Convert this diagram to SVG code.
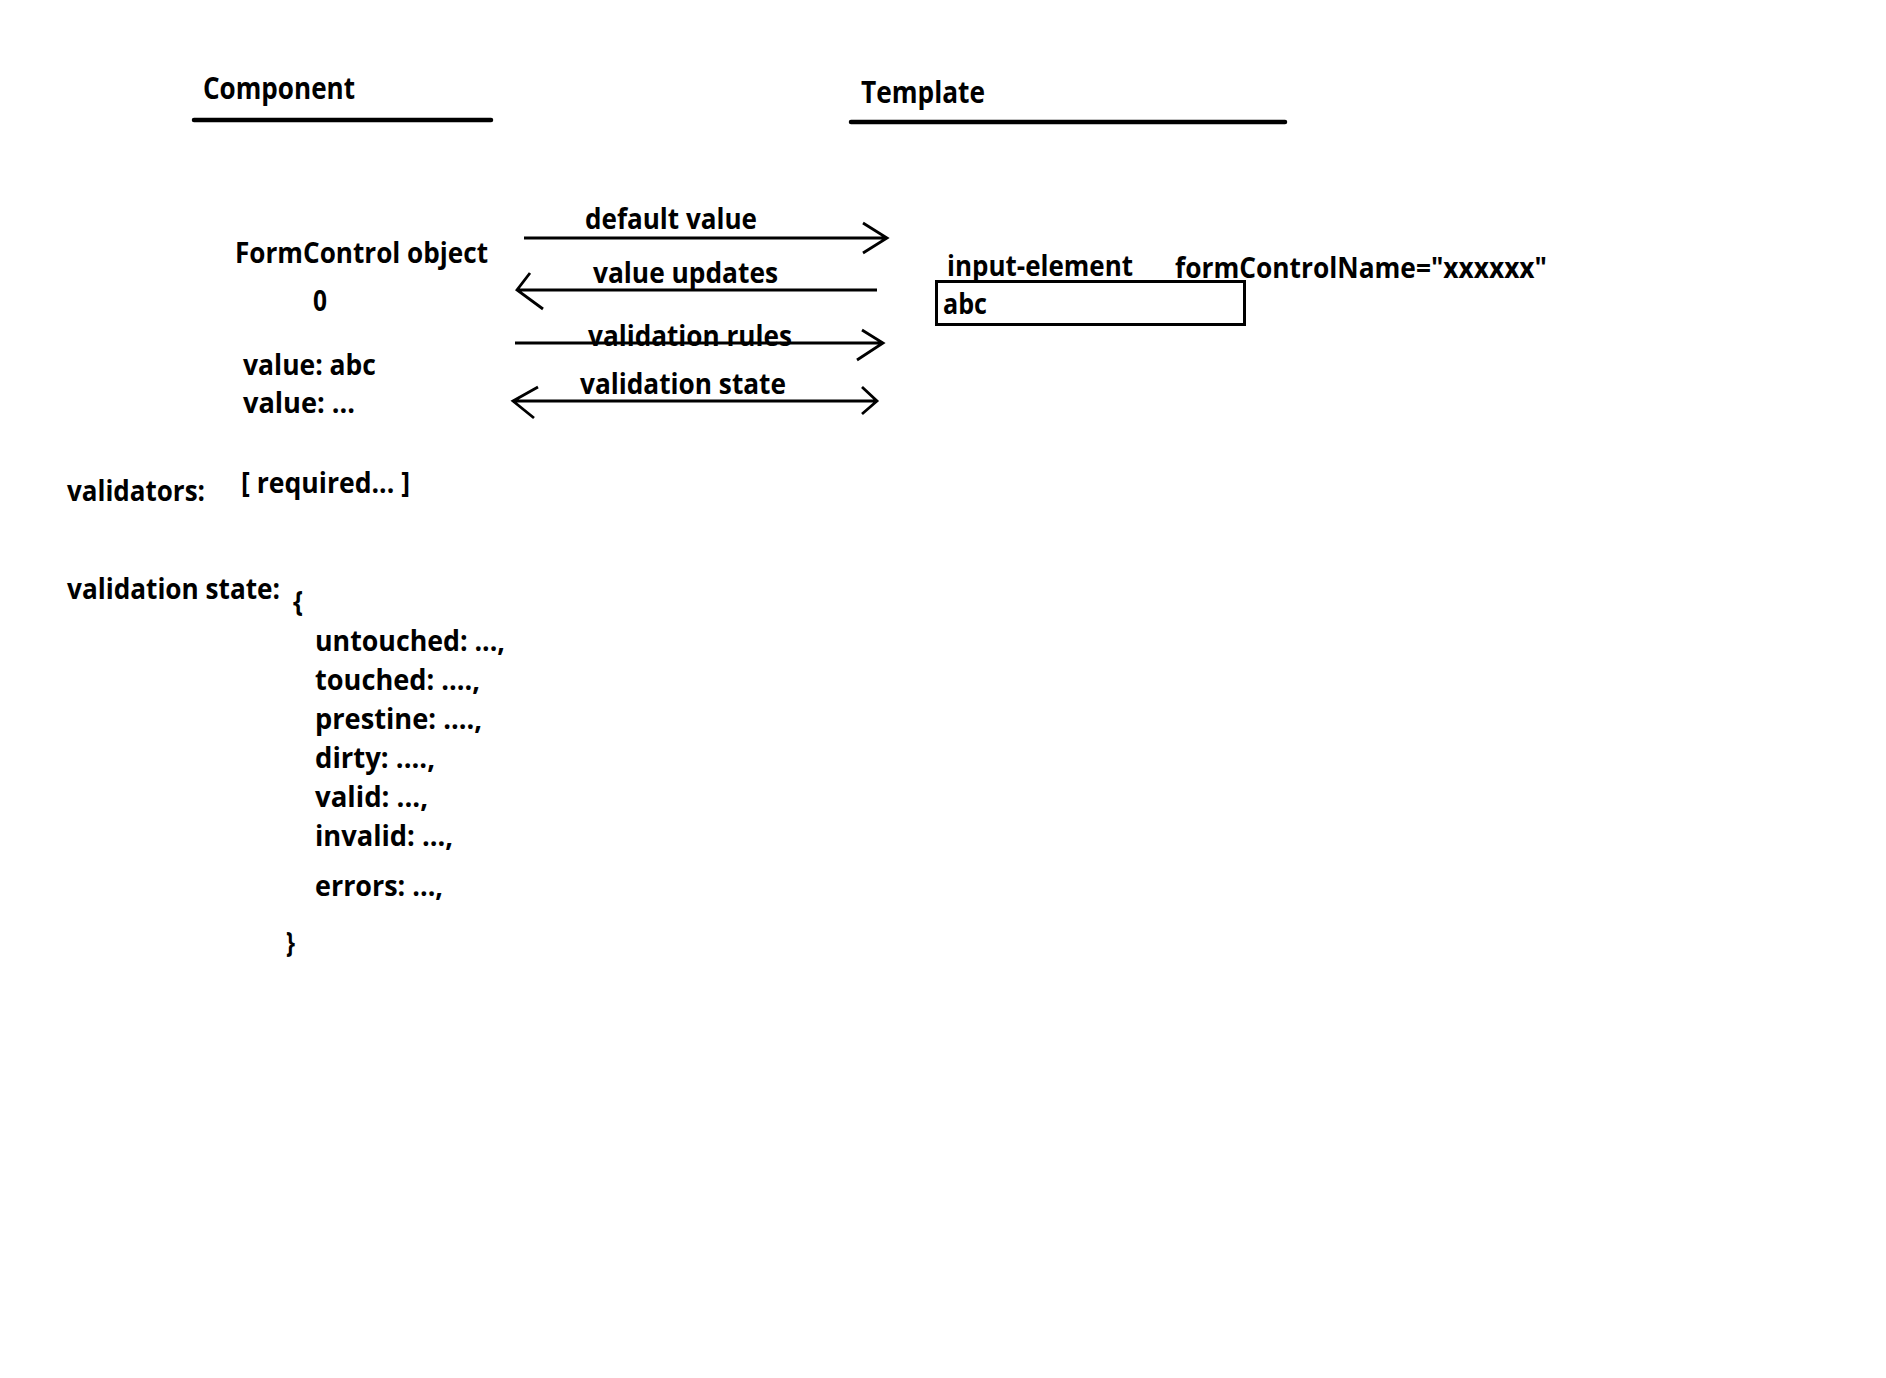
<svg xmlns="http://www.w3.org/2000/svg" width="1886" height="1378" viewBox="0 0 1886 1378">
  <style>
    text { font-family: "Open Sans", "Noto Sans", "DejaVu Sans", sans-serif; font-weight: 700; fill: #000; font-size: 28px; }
    .head { font-size: 29.5px; }
    .rule { stroke: #000; stroke-width: 4.5; stroke-linecap: round; fill: none; }
    .wire { stroke: #000; stroke-width: 2.8; fill: none; stroke-linecap: butt; stroke-linejoin: miter; }
    .box { stroke: #000; stroke-width: 3; fill: none; }
  </style>
  <rect width="1886" height="1378" fill="#fff"/>

  <!-- column headings -->
  <g id="component-heading">
    <text class="head" x="203" y="99" textLength="152" lengthAdjust="spacingAndGlyphs">Component</text>
    <line class="rule" x1="194" y1="120" x2="491" y2="120"/>
  </g>
  <g id="template-heading">
    <text class="head" x="861" y="103" textLength="124" lengthAdjust="spacingAndGlyphs">Template</text>
    <line class="rule" x1="851" y1="122" x2="1285" y2="122"/>
  </g>

  <!-- component side: the FormControl -->
  <g id="form-control">
    <text x="235" y="263" textLength="253" lengthAdjust="spacingAndGlyphs">FormControl object</text>
    <text x="313" y="311" textLength="14" lengthAdjust="spacingAndGlyphs">0</text>
    <text x="243" y="375" textLength="133" lengthAdjust="spacingAndGlyphs">value: abc</text>
    <text x="243" y="413" textLength="112" lengthAdjust="spacingAndGlyphs">value: ...</text>
  </g>

  <g id="validators">
    <text x="67" y="501" textLength="138" lengthAdjust="spacingAndGlyphs">validators:</text>
    <text x="241" y="493" textLength="169" lengthAdjust="spacingAndGlyphs">[ required... ]</text>
  </g>

  <g id="validation-state">
    <text x="67" y="599" textLength="213" lengthAdjust="spacingAndGlyphs">validation state:</text>
    <text x="293" y="612" textLength="10" lengthAdjust="spacingAndGlyphs">{</text>
    <text x="315" y="651" textLength="190" lengthAdjust="spacingAndGlyphs">untouched: ...,</text>
    <text x="315" y="690" textLength="165" lengthAdjust="spacingAndGlyphs">touched: ....,</text>
    <text x="315" y="729" textLength="167" lengthAdjust="spacingAndGlyphs">prestine: ....,</text>
    <text x="315" y="768" textLength="120" lengthAdjust="spacingAndGlyphs">dirty: ....,</text>
    <text x="315" y="807" textLength="113" lengthAdjust="spacingAndGlyphs">valid: ...,</text>
    <text x="315" y="846" textLength="138" lengthAdjust="spacingAndGlyphs">invalid: ...,</text>
    <text x="315" y="896" textLength="128" lengthAdjust="spacingAndGlyphs">errors: ...,</text>
    <text x="286" y="953" textLength="9" lengthAdjust="spacingAndGlyphs">}</text>
  </g>

  <!-- template side: the bound input -->
  <g id="input-element">
    <text x="947" y="276" textLength="186" lengthAdjust="spacingAndGlyphs">input-element</text>
    <text x="1175" y="278" textLength="372" lengthAdjust="spacingAndGlyphs">formControlName="xxxxxx"</text>
    <rect class="box" x="936.5" y="281.5" width="308" height="43"/>
    <text x="943" y="314" textLength="44" lengthAdjust="spacingAndGlyphs">abc</text>
  </g>

  <!-- data flow between component and template -->
  <g id="connectors">
    <g id="default-value">
      <text x="585" y="229" textLength="172" lengthAdjust="spacingAndGlyphs">default value</text>
      <path class="wire" d="M524 238 H887 M863 223 L887 238 L863 253"/>
    </g>
    <g id="value-updates">
      <text x="593" y="283" textLength="185" lengthAdjust="spacingAndGlyphs">value updates</text>
      <path class="wire" d="M877 290 H518 M530 273 L517 290 L543 309"/>
    </g>
    <g id="validation-rules">
      <text x="588" y="346" textLength="204" lengthAdjust="spacingAndGlyphs">validation rules</text>
      <path class="wire" d="M515 343 H883 M862 330 L883 343 L857 360"/>
    </g>
    <g id="validation-state-flow">
      <text x="580" y="394" textLength="206" lengthAdjust="spacingAndGlyphs">validation state</text>
      <path class="wire" d="M513 401 H877 M538 387 L513 401 L534 418 M862 387 L877 401 L862 414"/>
    </g>
  </g>
</svg>
